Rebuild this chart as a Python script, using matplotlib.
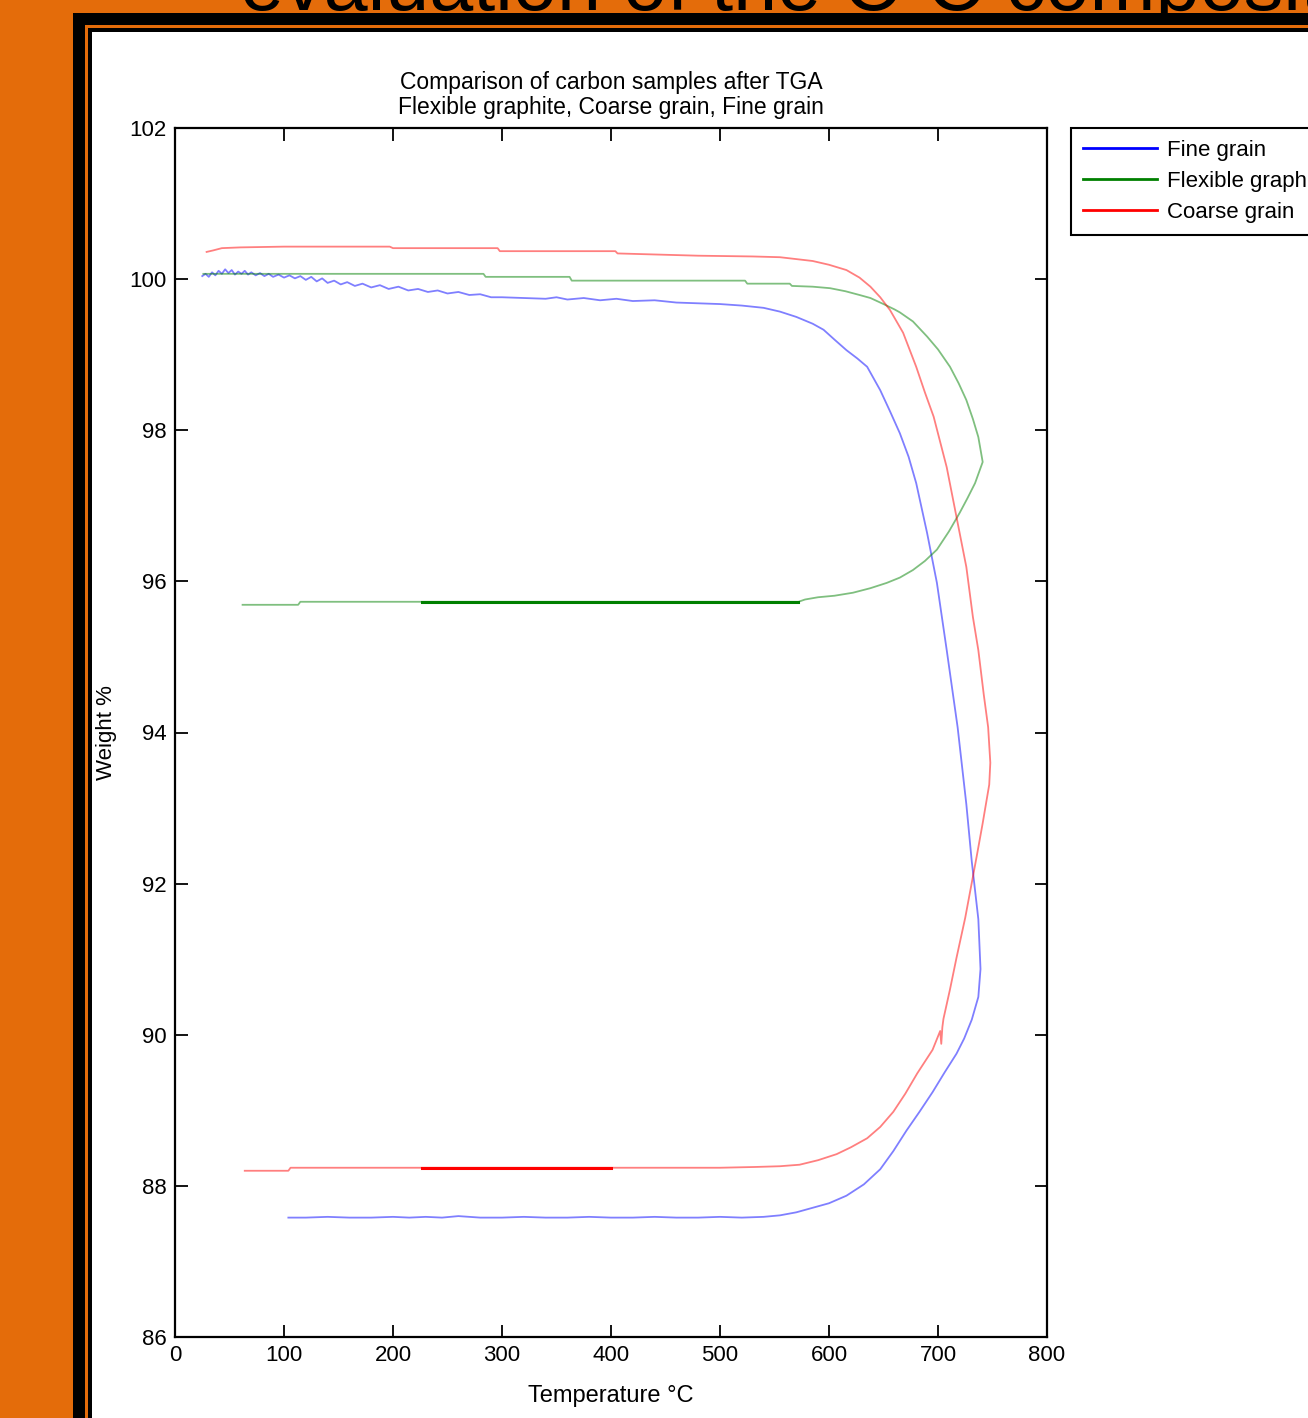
import matplotlib.pyplot as plt
import numpy as np
from matplotlib.patches import Rectangle
from matplotlib.lines import Line2D

plt.rcParams['font.family'] = ['Liberation Sans', 'DejaVu Sans']

# Fine grain (blue): heating branch then cooling branch
fine_T = [25, 28, 31, 34, 37, 40, 43, 46, 49, 52, 55, 58, 61, 64, 67, 70, 74, 78, 82, 86,
          90, 95, 100, 105, 110, 115, 120, 125, 130, 135, 140, 146, 152, 158, 165, 172, 180,
          188, 196, 205, 214, 223, 232, 241, 250, 260, 270, 280, 290, 300, 320, 340, 350, 360,
          375, 390, 405, 420, 440, 460, 480, 500, 520, 540, 555, 570, 585, 595, 605, 616, 626,
          635, 647, 656, 665, 673, 680, 690, 699, 708, 718, 726, 731, 737, 739, 737, 731, 724,
          717, 706, 695, 683, 671, 659, 647, 632, 616, 600, 585, 570, 555, 540, 520, 500, 480,
          460, 440, 420, 400, 380, 360, 340, 320, 300, 280, 260, 245, 230, 215, 200, 180, 160,
          140, 120, 104]
fine_W = [100.04, 100.07, 100.03, 100.09, 100.05, 100.11, 100.07, 100.13, 100.08, 100.12,
          100.06, 100.10, 100.07, 100.11, 100.06, 100.09, 100.05, 100.08, 100.04, 100.07,
          100.03, 100.06, 100.02, 100.05, 100.01, 100.04, 99.99, 100.03, 99.97, 100.01, 99.95,
          99.98, 99.93, 99.96, 99.91, 99.94, 99.89, 99.92, 99.87, 99.90, 99.85, 99.87, 99.83,
          99.85, 99.81, 99.83, 99.79, 99.80, 99.76, 99.76, 99.75, 99.74, 99.76, 99.73, 99.75,
          99.72, 99.74, 99.71, 99.72, 99.69, 99.68, 99.67, 99.65, 99.62, 99.57, 99.50, 99.41,
          99.33, 99.20, 99.06, 98.95, 98.84, 98.53, 98.25, 97.96, 97.65, 97.30, 96.64, 95.98,
          95.09, 94.07, 93.05, 92.29, 91.53, 90.87, 90.50, 90.20, 89.95, 89.75, 89.50, 89.24,
          88.98, 88.73, 88.46, 88.22, 88.02, 87.87, 87.77, 87.71, 87.65, 87.61, 87.59, 87.58,
          87.59, 87.58, 87.58, 87.59, 87.58, 87.58, 87.59, 87.58, 87.58, 87.59, 87.58, 87.58,
          87.60, 87.58, 87.59, 87.58, 87.59, 87.58, 87.58, 87.59, 87.58, 87.58]

# Flexible graphite (green)
flex_T = [26, 100, 200, 283, 285, 362, 364, 450, 523, 525, 564, 566, 585, 601, 615, 628, 638,
          650, 660, 665, 677, 690, 700, 711, 719, 726, 732, 737, 741, 734, 727, 720, 710, 699,
          688, 677, 665, 653, 638, 622, 605, 590, 578, 572, 500, 400, 300, 227, 115, 113, 62]
flex_W = [100.07, 100.07, 100.07, 100.07, 100.03, 100.03, 99.98, 99.98, 99.98, 99.94, 99.94,
          99.91, 99.90, 99.88, 99.84, 99.79, 99.75, 99.67, 99.60, 99.56, 99.44, 99.24, 99.07,
          98.84, 98.62, 98.40, 98.15, 97.91, 97.58, 97.30, 97.10, 96.91, 96.66, 96.42, 96.27,
          96.15, 96.05, 95.98, 95.91, 95.85, 95.81, 95.79, 95.76, 95.73, 95.73, 95.73, 95.73,
          95.73, 95.73, 95.69, 95.69]

# Coarse grain (red)
coarse_T = [29, 35, 43, 60, 100, 150, 197, 200, 296, 298, 404, 406, 480, 530, 555, 573, 585,
            600, 616, 628, 638, 647, 656, 668, 680, 688, 696, 708, 717, 726, 732, 737, 742, 746,
            748, 747, 741, 736, 732, 725, 717, 711, 705, 704, 703, 702, 695, 681, 670, 659, 647,
            635, 620, 607, 590, 573, 555, 532, 500, 400, 300, 227, 106, 104, 64]
coarse_W = [100.36, 100.38, 100.41, 100.42, 100.43, 100.43, 100.43, 100.41, 100.41, 100.37,
            100.37, 100.34, 100.31, 100.30, 100.29, 100.26, 100.24, 100.19, 100.12, 100.02,
            99.90, 99.76, 99.59, 99.29, 98.84, 98.50, 98.18, 97.51, 96.85, 96.19, 95.53, 95.09,
            94.50, 94.07, 93.60, 93.31, 92.80, 92.40, 92.09, 91.55, 91.02, 90.60, 90.21, 90.10,
            89.88, 90.05, 89.80, 89.49, 89.22, 88.98, 88.78, 88.63, 88.51, 88.42, 88.34, 88.28,
            88.26, 88.25, 88.24, 88.24, 88.24, 88.24, 88.24, 88.20, 88.20]

# temperature ranges on the cooling branch where the trace looks dense/darker
flex_dense = (227, 572)
coarse_dense = (227, 400)

W, H = 1308, 1418
fig = plt.figure(figsize=(W / 100, H / 100), dpi=100, facecolor='#E46C0A')

# slide background: cut-off slide title and frame
fig.text(240 / W, 1 - 10 / H, 'evaluation of the C-C composite', fontsize=57,
         va='baseline', ha='left', zorder=-5)
fig.patches.append(Rectangle((73 / W, -0.1), 1.2, 1.1 - 13 / H, transform=fig.transFigure,
                             facecolor='black', edgecolor='none', zorder=-4))
fig.patches.append(Rectangle((85 / W, -0.1), 1.2, 1.1 - 25 / H, transform=fig.transFigure,
                             facecolor='#E46C0A', edgecolor='none', zorder=-3.5))
fig.patches.append(Rectangle((88 / W, -0.1), 1.2, 1.1 - 28 / H, transform=fig.transFigure,
                             facecolor='black', edgecolor='none', zorder=-3))
fig.patches.append(Rectangle((92 / W, -0.1), 1.2, 1.1 - 32 / H, transform=fig.transFigure,
                             facecolor='white', edgecolor='none', zorder=-2))

ax = fig.add_axes([175 / W, 1 - 1337 / H, 872 / W, 1209 / H])

series = [(fine_T, fine_W, 'blue', None),
          (flex_T, flex_W, (0, 0.5, 0), flex_dense),
          (coarse_T, coarse_W, 'red', coarse_dense)]
for T, Wt, col, dense in series:
    T = np.array(T)
    Wt = np.array(Wt)
    ax.plot(T, Wt, color=col, lw=1.3, alpha=0.5)
    if dense is not None:
        tip = np.argmax(T)
        idx = np.arange(len(T))
        m = (idx > tip) & (T >= dense[0]) & (T <= dense[1])
        ax.plot(T[m], Wt[m], color=col, lw=2.2)

ax.set_xlim(0, 800)
ax.set_ylim(86, 102)
ax.set_xticks(np.arange(0, 801, 100))
ax.set_yticks(np.arange(86, 103, 2))
ax.tick_params(direction='in', length=9, width=1.3, top=True, right=True,
               labelsize=16, pad=6)
for s in ax.spines.values():
    s.set_linewidth(1.6)

ax.set_title('Comparison of carbon samples after TGA\nFlexible graphite, Coarse grain, Fine grain',
             fontsize=16.5, pad=10, linespacing=1.1)
ax.set_xlabel('Temperature °C', fontsize=17)
ax.xaxis.set_label_coords(0.5, -0.040)
ax.set_ylabel('Weight %', fontsize=16)
ax.yaxis.set_label_coords(-0.066, 0.5)

handles = [Line2D([], [], color='blue', lw=2),
           Line2D([], [], color=(0, 0.5, 0), lw=2),
           Line2D([], [], color='red', lw=2)]
leg = ax.legend(handles, ['Fine grain', 'Flexible graphite', 'Coarse grain'],
                loc='upper left', bbox_to_anchor=(1071 / W, 1 - 128 / H),
                bbox_transform=fig.transFigure, borderaxespad=0, fancybox=False,
                edgecolor='black', framealpha=1, fontsize=16, handlelength=3.3,
                handletextpad=0.45, borderpad=0.55, labelspacing=0.45)
leg.get_frame().set_linewidth(1.5)

fig.savefig('out.png', dpi=100, facecolor=fig.get_facecolor())
